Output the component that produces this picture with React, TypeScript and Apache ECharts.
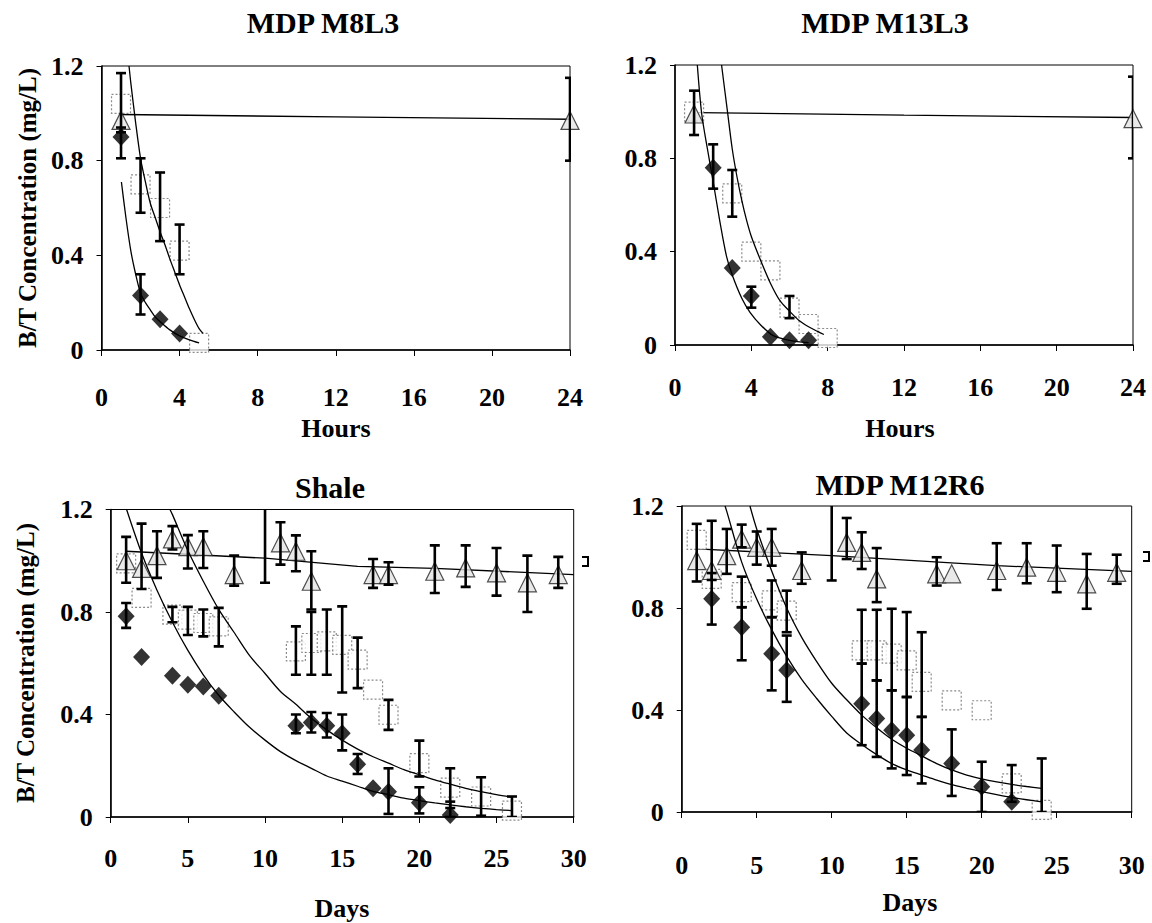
import React, { useEffect, useRef } from "react";
import * as echarts from "echarts";

type P = [number, number];
type E = [number, number, number];

// ---------- Panel 1: MDP M8L3 (hours) ----------
const m8Squares: P[] = [[1, 1.04], [2, 0.70], [3, 0.60], [4, 0.42], [5, 0.03]];
const m8Triangles: P[] = [[1, 0.97], [24, 0.97]];
const m8Diamonds: P[] = [[1, 0.90], [2, 0.23], [3, 0.13], [4, 0.07]];
const m8Errors: E[] = [[1, 0.92, 1.17], [1, 0.81, 0.94], [2, 0.58, 0.81], [3, 0.46, 0.75], [4, 0.32, 0.53], [2, 0.15, 0.32], [24, 0.80, 1.15]];
const m8CurveUpper: P[] = [[1.41, 1.2], [1.5, 1.13], [1.75, 0.96], [2, 0.81], [2.25, 0.71], [2.5, 0.62], [2.75, 0.56], [3, 0.50], [3.25, 0.445], [3.5, 0.385], [3.75, 0.33], [4, 0.275], [4.25, 0.225], [4.5, 0.175], [4.75, 0.13], [5, 0.09], [5.2, 0.07]];
const m8CurveLower: P[] = [[1.02, 0.71], [1.25, 0.56], [1.5, 0.42], [1.75, 0.32], [2, 0.24], [2.25, 0.2], [2.5, 0.17], [2.75, 0.14], [3, 0.12], [3.5, 0.085], [4, 0.06], [4.5, 0.043], [5, 0.03]];
const m8CurveFlat: P[] = [[1, 0.995], [12, 0.985], [24, 0.975]];

// ---------- Panel 2: MDP M13L3 (hours) ----------
const m13Squares: P[] = [[1, 1.0], [3, 0.65], [4, 0.40], [5, 0.32], [6, 0.16], [7, 0.09], [8, 0.03]];
const m13Triangles: P[] = [[1, 0.99], [24, 0.97]];
const m13Diamonds: P[] = [[2, 0.76], [3, 0.33], [4, 0.21], [5, 0.035], [6, 0.02], [7, 0.02]];
const m13Errors: E[] = [[1, 0.90, 1.09], [2, 0.67, 0.86], [3, 0.55, 0.75], [4, 0.16, 0.25], [6, 0.115, 0.21], [24, 0.80, 1.15]];
const m13CurveUpper: P[] = [[2.44, 1.2], [2.75, 1.0], [3, 0.84], [3.25, 0.72], [3.5, 0.62], [3.75, 0.535], [4, 0.465], [4.5, 0.36], [5, 0.265], [5.5, 0.19], [6, 0.145], [6.5, 0.105], [7, 0.078], [7.5, 0.057], [7.8, 0.045]];
const m13CurveLower: P[] = [[1.17, 1.2], [1.4, 0.99], [1.7, 0.84], [2, 0.70], [2.35, 0.53], [2.7, 0.38], [3, 0.30], [3.5, 0.20], [3.93, 0.14], [4.5, 0.085], [5.15, 0.04], [6, 0.02], [7, 0.01]];
const m13CurveFlat: P[] = [[1.2, 0.996], [12, 0.985], [24, 0.975]];

// ---------- Panel 3: Shale (days) ----------
const shaleSquares: P[] = [[1, 0.99], [2, 0.855], [4, 0.79], [5, 0.77], [6, 0.757], [7, 0.744], [12, 0.646], [13, 0.679], [14, 0.685], [15, 0.672], [16, 0.614], [17, 0.497], [18, 0.399], [20, 0.21], [22, 0.115], [24, 0.08], [26, 0.025]];
const shaleTriangles: P[] = [[1, 1.0], [2, 0.97], [3, 1.02], [4, 1.085], [5, 1.055], [6, 1.055], [8, 0.946], [11, 1.07], [12, 1.037], [13, 0.92], [17, 0.946], [18, 0.946], [21, 0.959], [23, 0.972], [25, 0.953], [27, 0.914], [29, 0.946]];
const shaleDiamonds: P[] = [[1, 0.783], [2, 0.624], [4, 0.551], [5, 0.516], [6, 0.509], [7, 0.473], [12, 0.356], [13, 0.369], [14, 0.356], [15, 0.327], [16, 0.206], [17, 0.112], [18, 0.099], [20, 0.056], [22, 0.008]];
const shaleErrors: E[] = [
  [1, 0.738, 0.835], [12, 0.327, 0.40], [13, 0.33, 0.41], [14, 0.31, 0.406], [15, 0.26, 0.40], [16, 0.168, 0.246], [18, 0.012, 0.19], [20, 0.014, 0.116], [22, 0.0, 0.06],
  [4, 0.76, 0.82], [5, 0.71, 0.82], [6, 0.705, 0.81], [7, 0.666, 0.816], [12, 0.555, 0.744], [13, 0.555, 0.80], [14, 0.555, 0.81], [15, 0.486, 0.822], [16, 0.503, 0.70], [18, 0.34, 0.457], [20, 0.158, 0.298], [22, 0.035, 0.19], [24, 0.005, 0.155], [26, 0.0, 0.08],
  [1, 0.914, 1.093], [2, 0.89, 1.145], [3, 0.933, 1.115], [4, 1.044, 1.135], [5, 0.97, 1.10], [6, 0.972, 1.115], [8, 0.903, 1.02], [10, 0.914, 1.4], [11, 0.985, 1.15], [12, 0.959, 1.099], [13, 0.81, 1.037], [17, 0.894, 1.007], [18, 0.907, 0.994], [21, 0.874, 1.06], [23, 0.898, 1.06], [25, 0.864, 1.05], [27, 0.80, 1.02], [29, 0.894, 1.015],
];
const shaleCurveUpper: P[] = [[3.84, 1.2], [4, 1.18], [5, 1.04], [6, 0.92], [7, 0.81], [8, 0.72], [9, 0.63], [10, 0.56], [11, 0.49], [12, 0.44], [13, 0.385], [14, 0.34], [15, 0.30], [16, 0.265], [17, 0.235], [18, 0.21], [19, 0.185], [20, 0.165], [21, 0.145], [22, 0.128], [23, 0.112], [24, 0.099], [25, 0.087], [26, 0.077]];
const shaleCurveLower: P[] = [[1.03, 1.2], [2, 1.03], [3, 0.885], [4, 0.76], [5, 0.65], [6, 0.555], [7, 0.475], [8, 0.41], [9, 0.35], [10, 0.30], [11, 0.255], [12, 0.22], [13, 0.19], [14, 0.16], [15, 0.14], [16, 0.12], [17, 0.10], [18, 0.087], [19, 0.074], [20, 0.064], [21, 0.055], [22, 0.047], [23, 0.04], [24, 0.034], [25, 0.029], [26, 0.025]];
const shaleCurveFlat: P[] = [[1, 1.037], [10, 1.01], [16, 0.978], [21, 0.97], [30, 0.946]];

// ---------- Panel 4: MDP M12R6 (days) ----------
const m12Squares: P[] = [[1, 1.067], [2, 0.914], [4, 0.862], [6, 0.83], [7, 0.79], [12, 0.634], [13, 0.634], [14, 0.621], [15, 0.595], [16, 0.51], [18, 0.438], [20, 0.399], [22, 0.112], [24, 0.008]];
const m12Triangles: P[] = [[1, 0.986], [2, 0.947], [3, 1.005], [4, 1.07], [5, 1.038], [6, 1.038], [8, 0.947], [11, 1.057], [12, 1.018], [13, 0.914], [17, 0.934], [18, 0.934], [21, 0.947], [23, 0.96], [25, 0.94], [27, 0.895], [29, 0.94]];
const m12Diamonds: P[] = [[2, 0.836], [4, 0.725], [6, 0.621], [7, 0.556], [12, 0.425], [13, 0.367], [14, 0.321], [15, 0.301], [16, 0.243], [18, 0.19], [20, 0.099], [22, 0.04]];
const m12Errors: E[] = [
  [1, 0.904, 1.13], [2, 0.91, 1.142], [3, 0.934, 1.11], [4, 1.038, 1.127], [5, 0.97, 1.10], [6, 0.966, 1.11], [8, 0.895, 1.018], [10, 0.908, 1.4], [11, 0.992, 1.153], [12, 0.953, 1.097], [13, 0.823, 1.035], [17, 0.888, 0.999], [21, 0.871, 1.054], [23, 0.897, 1.054], [25, 0.862, 1.045], [27, 0.797, 1.012], [29, 0.895, 1.009],
  [4, 0.803, 0.923], [6, 0.764, 0.908], [7, 0.705, 0.868], [12, 0.582, 0.793], [13, 0.516, 0.793], [14, 0.477, 0.797], [15, 0.451, 0.784], [16, 0.373, 0.705], [22, 0.04, 0.184], [24, 0.0, 0.21],
  [2, 0.735, 0.937], [4, 0.595, 0.803], [6, 0.477, 0.764], [7, 0.432, 0.692], [12, 0.262, 0.582], [13, 0.216, 0.516], [14, 0.171, 0.477], [15, 0.145, 0.451], [16, 0.112, 0.373], [18, 0.063, 0.324], [20, 0.0, 0.197],
];
const m12CurveUpper: P[] = [[4.55, 1.2], [5, 1.11], [6, 0.945], [7, 0.80], [8, 0.685], [9, 0.59], [10, 0.505], [11, 0.44], [12, 0.38], [13, 0.33], [14, 0.285], [15, 0.25], [16, 0.22], [17, 0.19], [18, 0.165], [19, 0.145], [20, 0.13], [21, 0.118], [22, 0.108], [23, 0.10], [24, 0.093]];
const m12CurveLower: P[] = [[2.89, 1.2], [3, 1.18], [4, 0.98], [5, 0.835], [6, 0.715], [7, 0.61], [8, 0.52], [9, 0.445], [10, 0.375], [11, 0.31], [12, 0.265], [13, 0.225], [14, 0.19], [15, 0.165], [16, 0.145], [17, 0.125], [18, 0.107], [19, 0.093], [20, 0.08], [21, 0.068], [22, 0.057], [23, 0.048], [24, 0.04]];
const m12CurveFlat: P[] = [[1, 1.032], [10, 1.005], [21, 0.966], [30, 0.944]];

const titles = ["MDP M8L3", "MDP M13L3", "Shale", "MDP M12R6"];
const xNames = ["Hours", "Hours", "Days", "Days"];
const yName = "B/T Concentration (mg/L)";

const FONT = "'Liberation Serif', 'Times New Roman', serif";

const grids = [
  { left: 101.5, top: 66, width: 468.5, height: 284 },
  { left: 675, top: 65, width: 458, height: 280 },
  { left: 110.7, top: 509.5, width: 463, height: 307.5 },
  { left: 681.7, top: 506, width: 450, height: 306 },
];
const xMax = [24, 24, 30, 30];
const xInterval = [4, 4, 5, 5];
const xLabelMargin = [34, 29, 28, 40];

const panels = [
  { sq: m8Squares, tri: m8Triangles, dia: m8Diamonds, err: m8Errors, curves: [m8CurveUpper, m8CurveLower, m8CurveFlat] },
  { sq: m13Squares, tri: m13Triangles, dia: m13Diamonds, err: m13Errors, curves: [m13CurveUpper, m13CurveLower, m13CurveFlat] },
  { sq: shaleSquares, tri: shaleTriangles, dia: shaleDiamonds, err: shaleErrors, curves: [shaleCurveUpper, shaleCurveLower, shaleCurveFlat] },
  { sq: m12Squares, tri: m12Triangles, dia: m12Diamonds, err: m12Errors, curves: [m12CurveUpper, m12CurveLower, m12CurveFlat] },
];

function errorRender(params: any, api: any) {
  const x = api.value(0);
  const lo = api.value(1);
  const hi = api.value(2);
  const a = api.coord([x, lo]);
  const b = api.coord([x, hi]);
  const w = 5;
  const st = { stroke: "#000", lineWidth: 2.6 };
  return {
    type: "group",
    children: [
      { type: "line", shape: { x1: a[0], y1: a[1], x2: b[0], y2: b[1] }, style: st },
      { type: "line", shape: { x1: a[0] - w, y1: a[1], x2: a[0] + w, y2: a[1] }, style: st },
      { type: "line", shape: { x1: b[0] - w, y1: b[1], x2: b[0] + w, y2: b[1] }, style: st },
    ],
  };
}

export default function App() {
  const ref = useRef<HTMLDivElement>(null);
  useEffect(() => {
    document.body.style.margin = "0";
    const chart = echarts.init(ref.current!, null, { renderer: "svg" });
    const axisLabelStyle = { fontFamily: FONT, fontWeight: "bold" as const, fontSize: 26, color: "#000" };

    const series: any[] = [];
    panels.forEach((p, i) => {
      const base = { xAxisIndex: i, yAxisIndex: i };
      series.push({
        ...base, type: "line", data: p.curves[2], smooth: false, symbol: "none", z: 1,
        lineStyle: { color: "#000", width: 1.3 },
      });
      series.push({
        ...base, type: "scatter", data: p.sq, symbol: "rect", symbolSize: 19, z: 2,
        itemStyle: { color: "#fff", borderColor: "#6e6e6e", borderWidth: 1.2, borderType: [2, 2] },
      });
      series.push({
        ...base, type: "scatter", data: p.tri, symbol: "triangle", symbolSize: 18, z: 3,
        itemStyle: { color: "#e4e4e4", borderColor: "#222", borderWidth: 1.2 },
      });
      series.push({
        ...base, type: "scatter", data: p.dia, symbol: "diamond", symbolSize: [17, 18], z: 4,
        itemStyle: { color: "#000" },
      });
      series.push({
        ...base, type: "custom", data: p.err, renderItem: errorRender, clip: true, z: 5,
        encode: { x: 0, y: [1, 2] },
      });
      [p.curves[0], p.curves[1]].forEach((c) => {
        series.push({
          ...base, type: "line", data: c, smooth: 0.3, symbol: "none", z: 6,
          lineStyle: { color: "#000", width: 1.3 },
        });
      });
    });

    const txt = (x: number, y: number, text: string, size: number, rot = 0) => ({
      type: "text", x, y, rotation: rot,
      style: { text, font: `bold ${size}px ${FONT}`, fill: "#000", align: "center", verticalAlign: "middle" },
    });

    const graphic: any[] = [
      txt(323, 22, titles[0], 30),
      txt(885, 22, titles[1], 30),
      txt(330, 487, titles[2], 30),
      txt(900, 484, titles[3], 30),
      txt(336, 428, xNames[0], 26),
      txt(900, 428, xNames[1], 26),
      txt(342, 908, xNames[2], 26),
      txt(910, 902, xNames[3], 26),
      txt(27, 208, yName, 25, Math.PI / 2),
      txt(25, 663, yName, 25, Math.PI / 2),
      { type: "polyline", shape: { points: [[582, 557], [588, 557], [588, 566], [582, 566]] }, style: { stroke: "#000", lineWidth: 2, fill: "none" } },
      { type: "polyline", shape: { points: [[1143, 552], [1149, 552], [1149, 561], [1143, 561]] }, style: { stroke: "#000", lineWidth: 2, fill: "none" } },
    ];

    chart.setOption({
      animation: false,
      backgroundColor: "#fff",
      grid: grids.map((g) => ({ ...g, show: true, borderColor: "#000", borderWidth: 1, backgroundColor: "transparent" })),
      xAxis: grids.map((_, i) => ({
        type: "value", gridIndex: i, min: 0, max: xMax[i], interval: xInterval[i],
        splitLine: { show: false },
        axisLine: { show: true, onZero: false, lineStyle: { color: "#000", width: 1.5 } },
        axisTick: { show: true, length: 6, lineStyle: { color: "#000", width: 1 } },
        axisLabel: { ...axisLabelStyle, margin: xLabelMargin[i] },
      })),
      yAxis: grids.map((_, i) => ({
        type: "value", gridIndex: i, min: 0, max: 1.2, interval: 0.4,
        splitLine: { show: false },
        axisLine: { show: true, onZero: false, lineStyle: { color: "#000", width: 1.5 } },
        axisTick: { show: true, length: 5, lineStyle: { color: "#000", width: 1 } },
        axisLabel: { ...axisLabelStyle, margin: 18 },
      })),
      series,
      graphic,
    });
    return () => chart.dispose();
  }, []);
  return <div ref={ref} style={{ width: 1152, height: 923 }} />;
}
